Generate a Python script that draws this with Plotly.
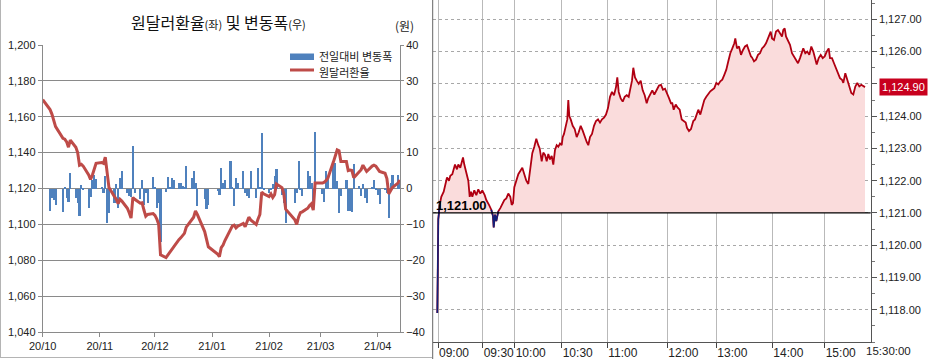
import numpy as np
import plotly.graph_objects as go

# ---------------- left chart data (daily) ----------------
dates = [
    "2020-10-01", "2020-10-05", "2020-10-06", "2020-10-07", "2020-10-08",
    "2020-10-12", "2020-10-13", "2020-10-14", "2020-10-15", "2020-10-16",
    "2020-10-19", "2020-10-20", "2020-10-21", "2020-10-22", "2020-10-23",
    "2020-10-26", "2020-10-27", "2020-10-28", "2020-10-29", "2020-10-30",
    "2020-11-02", "2020-11-03", "2020-11-04", "2020-11-05", "2020-11-06",
    "2020-11-09", "2020-11-10", "2020-11-11", "2020-11-12", "2020-11-13",
    "2020-11-16", "2020-11-17", "2020-11-18", "2020-11-19", "2020-11-20",
    "2020-11-23", "2020-11-24", "2020-11-25", "2020-11-26", "2020-11-27",
    "2020-11-30", "2020-12-01", "2020-12-02", "2020-12-03", "2020-12-04",
    "2020-12-07", "2020-12-08", "2020-12-09", "2020-12-10", "2020-12-11",
    "2020-12-14", "2020-12-15", "2020-12-16", "2020-12-17", "2020-12-18",
    "2020-12-21", "2020-12-22", "2020-12-23", "2020-12-24",
    "2020-12-28", "2020-12-29", "2020-12-30",
    "2021-01-04", "2021-01-05", "2021-01-06", "2021-01-07", "2021-01-08",
    "2021-01-11", "2021-01-12", "2021-01-13", "2021-01-14", "2021-01-15",
    "2021-01-18", "2021-01-19", "2021-01-20", "2021-01-21", "2021-01-22",
    "2021-01-25", "2021-01-26", "2021-01-27", "2021-01-28", "2021-01-29",
    "2021-02-01", "2021-02-02", "2021-02-03", "2021-02-04", "2021-02-05",
    "2021-02-08", "2021-02-09", "2021-02-10",
    "2021-02-15", "2021-02-16", "2021-02-17", "2021-02-18", "2021-02-19",
    "2021-02-22", "2021-02-23", "2021-02-24", "2021-02-25", "2021-02-26",
    "2021-03-02", "2021-03-03", "2021-03-04", "2021-03-05",
    "2021-03-08", "2021-03-09", "2021-03-10", "2021-03-11", "2021-03-12",
    "2021-03-15", "2021-03-16", "2021-03-17", "2021-03-18", "2021-03-19",
    "2021-03-22", "2021-03-23", "2021-03-24", "2021-03-25", "2021-03-26",
    "2021-03-29", "2021-03-30", "2021-03-31", "2021-04-01", "2021-04-02",
    "2021-04-05", "2021-04-06", "2021-04-07", "2021-04-08", "2021-04-09",
    "2021-04-12", "2021-04-13",
]

usdkrw = [
    1169.5, 1164.0, 1161.5, 1158.5, 1154.5,
    1148.0, 1147.5, 1146.0, 1143.0, 1147.0,
    1143.0, 1140.0, 1133.0, 1133.5, 1132.5,
    1127.5, 1125.0, 1127.5, 1131.5, 1134.0,
    1134.5, 1134.0, 1137.5, 1128.0, 1120.5,
    1115.5, 1114.0, 1111.5, 1114.0, 1113.0,
    1109.0, 1106.5, 1103.5, 1115.0, 1114.0,
    1111.8, 1112.0, 1108.0, 1104.5, 1105.5,
    1106.0, 1105.0, 1103.0, 1100.0, 1083.0,
    1081.5, 1083.0, 1084.0, 1085.5, 1087.5,
    1091.5, 1092.5, 1093.5, 1095.0, 1098.5,
    1102.5, 1104.0, 1107.5, 1105.5,
    1096.0, 1091.0, 1087.5,
    1083.5, 1082.0, 1087.0, 1088.5, 1091.0,
    1097.5, 1099.0, 1099.5, 1098.0, 1099.0,
    1100.5, 1098.7, 1101.0, 1104.0, 1102.5,
    1100.0, 1103.0, 1105.5, 1118.0, 1117.0,
    1115.5, 1117.0, 1115.0, 1116.5, 1122.5,
    1120.5, 1117.0, 1108.5,
    1102.5, 1100.0, 1104.0, 1106.5, 1107.0,
    1109.0, 1110.5, 1111.5, 1108.0, 1123.0,
    1123.0, 1123.5, 1124.5, 1126.0,
    1135.0, 1138.5, 1141.5, 1141.0, 1135.0,
    1135.0, 1130.0, 1130.3, 1130.0, 1126.0,
    1129.6, 1130.5, 1133.0, 1131.0, 1129.5,
    1132.5, 1133.0, 1132.5, 1131.0, 1129.5,
    1128.5, 1125.5, 1117.0, 1118.5, 1120.5,
    1123.0, 1124.8,
]

daily_change = [
    0.0, -6.3, -2.6, -3.1, -4.5,
    -6.6, 0.3, -2.6, -3.8, 4.2,
    -2.6, -4.0, -7.7, 1.1, -0.5,
    -5.4, -2.3, 2.5, 3.7, 2.6,
    0.4, -1.2, 3.4, -9.6, -6.8,
    -4.0, 1.3, -5.4, 3.0, 5.0,
    -1.2, -2.1, -2.3, 11.8, -1.2,
    -3.0, 2.5, -4.5, -1.2, -4.0,
    3.2, 0.2, -5.4, -4.0, -15.0,
    -1.0, 3.2, 0.3, 3.0, 2.5,
    1.6, 1.6, 0.6, 0.2, 6.4,
    3.0, 4.8, 1.5, -4.9,
    -3.0, -5.8, -4.7,
    -0.6, -1.7, 5.6, 1.6, 2.5,
    7.6, 0.3, -4.9, 3.0, 1.6,
    4.8, -1.2, -2.1, -2.6, 5.0,
    -2.6, 5.8, 0.5, 15.5, -0.3,
    -1.2, -0.3, 1.3, 3.4, 5.3,
    -1.7, -4.0, -9.6,
    -4.0, -1.2, 7.6, -0.5, -2.0,
    4.8, 3.4, 1.6, -3.5, 15.7,
    -1.5, -3.8, 5.0, 3.4,
    6.7, 7.1, 2.0, -6.8, -2.1,
    2.5, -6.3, -6.3, -6.6, 6.7,
    0.6, -2.1, 1.3, -2.6, -4.0,
    0.5, 2.5, -0.3, -1.7, -4.3,
    -0.5, -1.2, -8.2, 1.6, 3.9,
    3.9, 1.5,
]

month_ticks = ["2020-10-01", "2020-11-01", "2020-12-01", "2021-01-01",
               "2021-02-01", "2021-03-01", "2021-04-01"]
month_labels = ["20/10", "20/11", "20/12", "21/01", "21/02", "21/03", "21/04"]
legend_names = ["전일대비 변동폭", "원달러환율"]

# ---------------- right chart data (intraday, tick sequence) ----------------
seq = [
    4.6, 5.0, 5.6, 7.0, 8.6, 11.0, 13.0, 14.3, 16.3, 17.6, 19.6, 21.0, 22.3, 24.3,
    25.6, 27.6, 29.0, 30.3, 31.6, 33.0, 34.3, 35.6, 37.0, 38.3, 39.6, 41.6, 43.6,
    45.6, 47.6, 49.6, 52.0, 53.6, 56.3, 58.6, 60.3, 61.0, 62.3, 63.6, 64.6, 65.6,
    67.6, 69.6, 71.6, 73.6, 75.6, 77.6, 79.0, 80.3, 81.6, 83.6, 85.6, 87.6, 89.6,
    91.6, 93.6, 95.6, 97.6, 99.6, 101.6, 103.6, 105.6, 107.0, 109.0, 110.6, 112.3,
    114.0, 115.6, 117.3, 119.0, 120.6, 122.3, 124.0, 125.6, 127.3, 129.0, 130.0,
    131.3, 133.3, 134.6, 135.6, 136.6, 138.0, 140.0, 142.0, 144.0, 146.0, 148.0,
    150.0, 152.0, 154.0, 155.6, 157.3, 159.3, 161.3, 163.3, 165.3, 167.3, 169.3,
    171.3, 173.3, 175.3, 177.3, 179.3, 181.3, 183.3, 184.6, 186.0, 188.0, 190.0,
    192.0, 194.0, 196.0, 197.3, 199.3, 200.6, 202.3, 204.0, 206.0, 208.0, 210.0,
    212.0, 214.0, 215.6, 217.3, 219.6, 221.6, 224.0, 226.3, 228.3, 230.3, 232.3,
    234.3, 236.3, 238.3, 239.6, 241.0, 243.0, 245.0, 247.0, 249.0, 251.0, 253.0,
    254.3, 256.3, 258.3, 260.6, 262.3, 264.0, 265.6, 267.6, 269.6, 271.6, 273.6,
    275.6, 277.6, 279.6, 281.6, 283.6, 285.6, 287.6, 289.6, 291.6, 293.6, 295.6,
    297.6, 299.6, 301.6, 302.6, 304.3, 306.3, 308.3, 310.3, 312.3, 314.3, 316.3,
    318.3, 319.3, 321.3, 323.3, 325.3, 327.3, 329.3, 331.3, 333.3, 335.3, 336.6,
    338.0, 339.3, 341.3, 343.3, 345.3, 347.3, 349.3, 350.6, 352.0, 353.3, 355.3,
    357.3, 359.3, 361.3, 363.3, 365.3, 367.3, 369.3, 370.6, 372.6, 374.6, 376.6,
    378.6, 380.6, 382.6, 384.0, 386.0, 388.0, 390.0, 392.0, 394.0, 396.0, 397.3,
    399.3, 401.3, 403.3, 405.3, 407.3, 409.3, 410.6, 412.6, 414.6, 416.6, 418.6,
    420.6, 422.6, 424.6, 426.6, 428.6, 430.6, 432.3,
]

price = [
    1117.90, 1119.40, 1120.80, 1121.25, 1121.50, 1121.66, 1121.90, 1122.10, 1122.00,
    1122.15, 1122.20, 1122.40, 1122.50, 1122.35, 1122.50, 1122.40, 1122.60, 1122.72,
    1122.50, 1122.30, 1122.20, 1122.00, 1121.50, 1121.66, 1121.50, 1121.70, 1121.55,
    1121.73, 1121.60, 1121.70, 1121.55, 1121.40, 1121.25, 1121.10, 1120.90, 1120.55,
    1120.95, 1120.75, 1120.90, 1121.05, 1121.15, 1121.30, 1121.40, 1121.45, 1121.60,
    1121.50, 1121.25, 1121.30, 1121.80, 1122.00, 1122.20, 1122.30, 1122.40, 1122.20,
    1122.00, 1121.90, 1122.40, 1122.85, 1123.05, 1123.30, 1123.10, 1123.00, 1122.60,
    1122.87, 1122.80, 1122.60, 1122.83, 1122.66, 1122.77, 1122.50, 1122.95, 1123.10,
    1123.05, 1123.15, 1123.10, 1123.35, 1123.45, 1123.70, 1123.90, 1124.50, 1124.00,
    1123.90, 1123.70, 1123.60, 1123.35, 1123.50, 1123.70, 1123.55, 1123.35, 1123.20,
    1123.10, 1123.35, 1123.45, 1123.70, 1123.85, 1123.90, 1123.80, 1123.90, 1123.95,
    1124.05, 1124.25, 1124.60, 1124.75, 1124.65, 1124.90, 1125.20, 1124.75, 1124.55,
    1124.45, 1124.60, 1124.65, 1124.60, 1124.80, 1125.10, 1125.50, 1125.20, 1125.10,
    1125.00, 1125.10, 1124.80, 1124.65, 1124.40, 1124.56, 1124.67, 1124.80, 1124.67,
    1124.82, 1124.95, 1124.97, 1124.82, 1124.85, 1124.72, 1124.56, 1124.40, 1124.40,
    1124.20, 1124.36, 1124.26, 1124.20, 1123.90, 1123.85, 1123.80, 1123.64, 1123.54,
    1123.60, 1123.85, 1123.90, 1124.05, 1124.20, 1124.05, 1124.25, 1124.50, 1124.60,
    1124.70, 1124.77, 1124.82, 1124.87, 1125.03, 1124.98, 1125.08, 1125.13, 1125.28,
    1125.44, 1125.70, 1125.95, 1126.10, 1126.26, 1126.41, 1126.10, 1126.16, 1125.90,
    1126.05, 1126.16, 1126.20, 1126.00, 1125.85, 1125.82, 1125.70, 1125.75, 1125.90,
    1125.95, 1126.10, 1126.16, 1126.26, 1126.41, 1126.52, 1126.62, 1126.41, 1126.36,
    1126.62, 1126.67, 1126.57, 1126.47, 1126.67, 1126.72, 1126.47, 1126.36, 1126.21,
    1125.95, 1125.85, 1125.75, 1125.64, 1125.80, 1125.95, 1126.10, 1125.95, 1126.00,
    1125.90, 1126.16, 1126.00, 1125.70, 1125.60, 1125.80, 1125.90, 1125.80, 1125.85,
    1126.00, 1126.10, 1125.80, 1125.80, 1125.64, 1125.49, 1125.28, 1125.18, 1125.13,
    1125.03, 1125.33, 1125.13, 1124.97, 1124.72, 1124.67, 1124.92, 1125.03, 1124.92,
    1124.97, 1124.92, 1124.90,
]

prev_close = 1121.00
time_tick_pos = [5.3, 50, 82, 129, 174.6, 234.6, 283.6, 339.6, 392]
time_tick_labels = ["09:00", "09:30", "10:00", "10:30", "11:00", "12:00",
                    "13:00", "14:00", "15:00"]
close_tick_pos = 431.3
close_tick_label = "15:30:00"
price_ticks = [1118, 1119, 1120, 1121, 1122, 1123, 1124, 1125, 1126, 1127]

# ---------------- styling ----------------
W, H = 928, 359
NUM_FONT = "Liberation Sans, Arial, sans-serif"
KR_FONT = "Noto Sans CJK KR, Liberation Sans, sans-serif"
BAR_C = "#4f81bd"
LINE_C = "#be4b48"
GRID_C = "#8a8a8a"
UP_C = "#b00012"
DOWN_C = "#12207a"
FILL_C = "#fadcdc"
TAG_C = "#c8001e"


def px_x(p):
    return p / W


def px_y(p):
    return 1 - p / H


fig = go.Figure()

# ---- left chart traces ----
fig.add_trace(go.Bar(
    x=dates, y=daily_change, xaxis="x", yaxis="y",
    marker=dict(color=BAR_C, line=dict(width=0)),
    width=0.9 * 86400000, showlegend=False, name=legend_names[0]))
fig.add_trace(go.Scatter(
    x=dates, y=usdkrw, xaxis="x", yaxis="y2", mode="lines",
    line=dict(color=LINE_C, width=3), showlegend=False, name=legend_names[1]))

# ---- right chart traces ----
p = np.array(price)
fig.add_trace(go.Scatter(
    x=[seq[0], seq[-1]], y=[prev_close, prev_close], xaxis="x3", yaxis="y3",
    mode="lines", line=dict(width=0), hoverinfo="skip", showlegend=False))
fig.add_trace(go.Scatter(
    x=seq, y=np.maximum(p, prev_close), xaxis="x3", yaxis="y3", mode="lines",
    line=dict(width=0), fill="tonexty", fillcolor=FILL_C,
    hoverinfo="skip", showlegend=False))
fig.add_trace(go.Scatter(
    x=seq, y=price, xaxis="x3", yaxis="y3", mode="lines",
    line=dict(color=UP_C, width=1.8), showlegend=False))
below = p < prev_close
show = below.copy()
show[1:] |= below[:-1]
show[:-1] |= below[1:]
fig.add_trace(go.Scatter(
    x=seq, y=[v if s else None for v, s in zip(price, show)],
    xaxis="x3", yaxis="y3", mode="lines", connectgaps=False,
    line=dict(color=DOWN_C, width=1.6), showlegend=False))
# arrow tip of the last-price tag
fig.add_trace(go.Scatter(
    x=[445], y=[price[-1]], xaxis="x3", yaxis="y3", mode="markers",
    marker=dict(symbol="triangle-left", size=14, color=TAG_C),
    cliponaxis=False, showlegend=False, hoverinfo="skip"))

# the last-price tag covers the tick label it sits on
price_tick_text = ["" if abs(v - price[-1]) < 0.5 else f"{v:,.2f}" for v in price_ticks]

tickfont_s = dict(size=11, family=NUM_FONT, color="#222")
fig.update_layout(
    template="none",
    width=W, height=H, margin=dict(l=0, r=0, t=0, b=0, autoexpand=False),
    paper_bgcolor="white", plot_bgcolor="white",
    font=dict(family=NUM_FONT, size=11, color="#222"),
    bargap=0, showlegend=False,
    xaxis=dict(
        domain=[px_x(42.7), px_x(400)], anchor="y", type="date",
        range=["2020-10-01", "2021-04-13 03:00"], automargin=False,
        tickvals=month_ticks, ticktext=month_labels, tickangle=0,
        ticks="outside", ticklen=4, tickcolor=GRID_C,
        showline=True, linecolor=GRID_C, showgrid=False, zeroline=False,
        tickfont=tickfont_s),
    yaxis=dict(
        domain=[px_y(332), px_y(45)], anchor="x", side="right",
        range=[-40, 40], dtick=10, showgrid=True, gridcolor=GRID_C,
        zeroline=False, showline=True, linecolor=GRID_C, automargin=False,
        ticks="outside", ticklen=3, tickcolor=GRID_C,
        tickfont=tickfont_s),
    yaxis2=dict(
        overlaying="y", anchor="x", side="left",
        range=[1040, 1200], dtick=20, tickformat=",d", automargin=False,
        showgrid=False, zeroline=False, showline=True, linecolor=GRID_C,
        ticks="outside", ticklen=4, tickcolor=GRID_C,
        tickfont=tickfont_s),
    xaxis3=dict(
        domain=[px_x(432.7), px_x(870.7)], anchor="y3", automargin=False,
        range=[0, 438], tickvals=time_tick_pos, ticktext=time_tick_labels,
        tickangle=0, ticks="outside", ticklen=5, tickcolor="#444",
        ticklabelposition="outside right",
        showgrid=True, gridcolor="#b9b9b9", gridwidth=1,
        showline=True, linecolor="#555", zeroline=False,
        tickfont=dict(size=12, family=NUM_FONT, color="#222")),
    yaxis3=dict(
        domain=[px_y(342), 1], anchor="x3", side="right", automargin=False,
        range=[1117.0, 1127.6], tickvals=price_ticks, ticktext=price_tick_text,
        showgrid=True, gridcolor="#a8a8a8", griddash="dot",
        zeroline=False, showline=True, linecolor="#555",
        ticks="outside", ticklen=5, tickcolor="#555",
        minor=dict(dtick=0.5, ticks="outside", ticklen=3, tickcolor="#777",
                   showgrid=False),
        tickfont=tickfont_s),
)

shapes = [
    # previous-close reference line
    dict(type="line", xref="x3 domain", yref="y3", x0=0, x1=1,
         y0=prev_close, y1=prev_close, line=dict(color="black", width=1.3)),
    # left border of the intraday panel
    dict(type="line", xref="x3 domain", yref="paper", x0=0, x1=0, y0=0, y1=1,
         line=dict(color="#666", width=1)),
    # frame edges of the left chart panel
    dict(type="line", xref="paper", yref="paper", x0=px_x(0.5), x1=px_x(0.5),
         y0=px_y(357.5), y1=1, line=dict(color="#b4b4b4", width=1)),
    dict(type="line", xref="paper", yref="paper", x0=0, x1=px_x(432),
         y0=px_y(357.5), y1=px_y(357.5), line=dict(color="#b4b4b4", width=1)),
    # legend keys (left chart)
    dict(type="rect", xref="paper", yref="paper",
         x0=px_x(290), x1=px_x(314), y0=px_y(60), y1=px_y(53.5),
         fillcolor=BAR_C, line=dict(width=0)),
    dict(type="line", xref="paper", yref="paper",
         x0=px_x(290), x1=px_x(314), y0=px_y(70), y1=px_y(70),
         line=dict(color=LINE_C, width=3)),
]
fig.update_layout(shapes=shapes)

annotations = [
    dict(text='원달러환율<span style="font-size:11px">(좌)</span> 및 변동폭<span style="font-size:11px">(우)</span>',
         xref="paper", yref="paper", x=px_x(218), y=px_y(22),
         xanchor="center", yanchor="middle", showarrow=False,
         font=dict(family=KR_FONT, size=16, color="#111")),
    dict(text="(원)", xref="paper", yref="paper", x=px_x(404), y=px_y(25),
         xanchor="center", yanchor="middle", showarrow=False,
         font=dict(family=KR_FONT, size=12, color="#222")),
    dict(text=legend_names[0], xref="paper", yref="paper", x=px_x(317),
         y=px_y(56), xanchor="left", yanchor="middle", showarrow=False,
         font=dict(family=KR_FONT, size=11, color="#222")),
    dict(text=legend_names[1], xref="paper", yref="paper", x=px_x(317),
         y=px_y(71.5), xanchor="left", yanchor="middle", showarrow=False,
         font=dict(family=KR_FONT, size=11, color="#222")),
    dict(text="<b>1,121.00</b>", xref="x3 domain", yref="y3", x=0.004,
         y=prev_close, xanchor="left", yanchor="bottom", showarrow=False,
         yshift=-2, font=dict(family=NUM_FONT, size=13, color="black")),
    dict(text=f"{price[-1]:,.2f}", xref="paper", yref="y3", x=px_x(879),
         y=price[-1], xanchor="left", yanchor="middle", showarrow=False,
         bgcolor=TAG_C, borderpad=2,
         font=dict(family=NUM_FONT, size=11, color="white")),
    dict(text=close_tick_label, xref="x3", yref="y3 domain", x=close_tick_pos,
         y=0, xanchor="left", yanchor="middle", yshift=-9, showarrow=False,
         font=dict(family=NUM_FONT, size=11.5, color="#222")),
]
fig.update_layout(annotations=annotations)

# page body margin would offset the 928x359 figure inside the window
fig.write_html(
    "out.html",
    config={"displayModeBar": False},
    post_script="document.body.style.margin='0';document.body.style.overflow='hidden';",
)
